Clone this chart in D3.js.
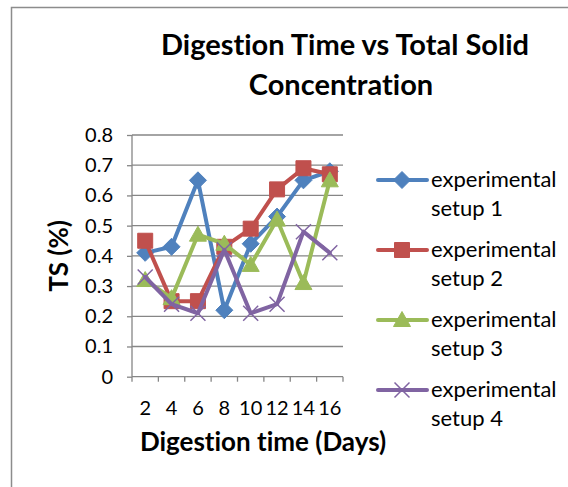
<!DOCTYPE html>
<html>
<head>
<meta charset="utf-8">
<script src="https://cdn.jsdelivr.net/npm/d3@7"></script>
<style>
  body { margin: 0; background: #fff; }
  svg { display: block; font-family: Lato, "Open Sans", sans-serif; font-variant-ligatures: none; }
</style>
</head>
<body>
<svg id="chart" width="568" height="487"></svg>
<script>
// values
var days = ["2", "4", "6", "8", "10", "12", "14", "16"];
var yTicks = [0, 0.1, 0.2, 0.3, 0.4, 0.5, 0.6, 0.7, 0.8];
var setup1 = [0.41, 0.43, 0.65, 0.22, 0.44, 0.53, 0.65, 0.68];
var setup2 = [0.45, 0.25, 0.25, 0.43, 0.49, 0.62, 0.69, 0.67];
var setup3 = [0.32, 0.26, 0.47, 0.44, 0.37, 0.52, 0.31, 0.65];
var setup4 = [0.33, 0.24, 0.21, 0.42, 0.21, 0.24, 0.48, 0.41];
var names = ["experimental setup 1", "experimental setup 2", "experimental setup 3", "experimental setup 4"];

var series = [
  {name: names[0], values: setup1, color: "#4F81BD", marker: "diamond"},
  {name: names[1], values: setup2, color: "#C0504D", marker: "square"},
  {name: names[2], values: setup3, color: "#9BBB59", marker: "triangle"},
  {name: names[3], values: setup4, color: "#8064A2", marker: "cross"}
];

var svg = d3.select("#chart");

// outer chart border (only top and left visible in frame)
svg.append("rect")
  .attr("x", 11.5).attr("y", 7.5)
  .attr("width", 700).attr("height", 700)
  .attr("fill", "none").attr("stroke", "#8c8c8c").attr("stroke-width", 1.5);

var plot = {left: 132, right: 343, top: 135, bottom: 376.7};

var x = d3.scaleBand().domain(days).range([plot.left, plot.right]);
var y = d3.scaleLinear().domain([0, 0.8]).range([plot.bottom, plot.top]);

// gridlines
svg.append("g")
  .selectAll("line").data(yTicks.slice(1)).join("line")
  .attr("x1", plot.left).attr("x2", plot.right)
  .attr("y1", function(d) { return y(d); }).attr("y2", function(d) { return y(d); })
  .attr("stroke", "#868686").attr("stroke-width", 1.3);

// y axis
var yAxis = svg.append("g")
  .attr("transform", "translate(" + plot.left + ",0)")
  .call(d3.axisLeft(y).tickValues(yTicks).tickSize(5).tickPadding(14));
yAxis.selectAll("text").text(function(d) { return d === 0 ? "0" : d3.format(".1f")(d); });

// x axis
var xAxis = svg.append("g")
  .attr("transform", "translate(0," + plot.bottom + ")")
  .call(d3.axisBottom(x).tickSize(0).tickPadding(24));
xAxis.selectAll(".tick line").remove();
xAxis.append("g").selectAll("line")
  .data(d3.range(days.length + 1)).join("line")
  .attr("x1", function(i) { return plot.left + i * x.step(); })
  .attr("x2", function(i) { return plot.left + i * x.step(); })
  .attr("y1", 0).attr("y2", 5)
  .attr("stroke", "#868686").attr("stroke-width", 1.3);

[yAxis, xAxis].forEach(function(ax) {
  ax.select(".domain").attr("stroke", "#868686").attr("stroke-width", 1.3);
  ax.selectAll(".tick line").attr("stroke", "#868686").attr("stroke-width", 1.3);
  ax.selectAll("text").attr("font-size", 20).attr("fill", "#000")
    .attr("font-family", "Lato, 'Open Sans', sans-serif");
});
yAxis.select(".domain").attr("d", "M0," + plot.bottom + "V" + plot.top);
xAxis.select(".domain").attr("d", "M" + plot.left + ",0H" + plot.right);

// marker shapes
function markerPath(type) {
  if (type === "diamond") return "M0,-8.5L8.5,0L0,8.5L-8.5,0Z";
  if (type === "square") return "M-7.5,-7.5H7.5V7.5H-7.5Z";
  if (type === "triangle") return "M0,-8.5L8.5,6.5H-8.5Z";
  return "M-7.5,-7.5L7.5,7.5M7.5,-7.5L-7.5,7.5";
}
function drawMarker(g, s) {
  var p = g.append("path").attr("d", markerPath(s.marker));
  if (s.marker === "cross") {
    p.attr("fill", "none").attr("stroke", s.color).attr("stroke-width", 1.5);
  } else {
    p.attr("fill", s.color).attr("stroke", s.color).attr("stroke-width", 1);
  }
}

var line = d3.line()
  .x(function(d, i) { return x(days[i]) + x.bandwidth() / 2; })
  .y(function(d) { return y(d); });

series.forEach(function(s) {
  var g = svg.append("g");
  g.append("path").datum(s.values)
    .attr("d", line)
    .attr("fill", "none").attr("stroke", s.color)
    .attr("stroke-width", 4).attr("stroke-linejoin", "round").attr("stroke-linecap", "round");
  s.values.forEach(function(v, i) {
    var m = g.append("g")
      .attr("transform", "translate(" + (x(days[i]) + x.bandwidth() / 2) + "," + y(v) + ")");
    drawMarker(m, s);
  });
});

// title
var title = svg.append("text")
  .attr("text-anchor", "middle")
  .attr("font-size", 29).attr("font-weight", "bold");
title.append("tspan").attr("x", 345).attr("y", 55).text("Digestion Time vs Total Solid");
title.append("tspan").attr("x", 341).attr("y", 95).text("Concentration");

// axis titles
svg.append("text")
  .attr("transform", "translate(68,256) rotate(-90)")
  .attr("text-anchor", "middle")
  .attr("font-size", 26).attr("font-weight", "bold")
  .text("TS (%)");

svg.append("text")
  .attr("x", 263).attr("y", 451)
  .attr("text-anchor", "middle")
  .attr("font-size", 26).attr("font-weight", "bold")
  .text("Digestion time (Days)");

// legend
var legend = svg.append("g");
series.forEach(function(s, i) {
  var cy = 180 + i * 70;
  var g = legend.append("g").attr("transform", "translate(0," + cy + ")");
  g.append("line").attr("x1", 378).attr("x2", 427).attr("y1", 0).attr("y2", 0)
    .attr("stroke", s.color).attr("stroke-width", 4).attr("stroke-linecap", "round");
  var m = g.append("g").attr("transform", "translate(402,0)");
  drawMarker(m, s);
  var words = s.name.split(" ");
  var t = g.append("text").attr("font-size", 22);
  t.append("tspan").attr("x", 431).attr("y", 7).text(words[0]);
  t.append("tspan").attr("x", 431).attr("y", 36).text(words[1] + " " + words[2]);
});
</script>
</body>
</html>
